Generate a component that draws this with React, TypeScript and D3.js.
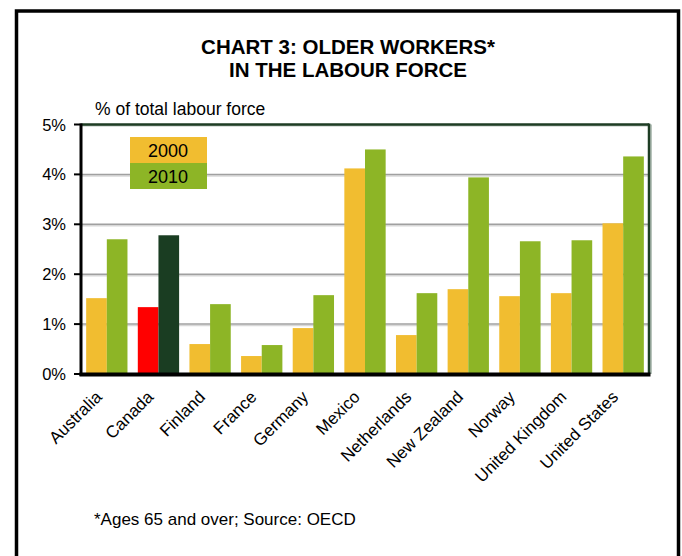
import React from 'react';
import * as d3 from 'd3';

const countries = ['Australia', 'Canada', 'Finland', 'France', 'Germany', 'Mexico', 'Netherlands', 'New Zealand', 'Norway', 'United Kingdom', 'United States'];
const values2000 = [1.52, 1.34, 0.6, 0.36, 0.92, 4.12, 0.78, 1.7, 1.56, 1.62, 3.02];
const values2010 = [2.7, 2.78, 1.4, 0.58, 1.58, 4.5, 1.62, 3.94, 2.66, 2.68, 4.36];
const highlight = ['Canada'];
const yTicks = [0, 1, 2, 3, 4, 5];
const seriesNames = ['2000', '2010'];

const W = 682;
const H = 556;
const FONT = "'Liberation Sans', Arial, sans-serif";

const colors = { y2000: '#f1bd30', y2010: '#8db526', hi2000: '#ff0000', hi2010: '#1a3d22' };

const App: React.FC = () => {
  const margin = { left: 81, right: 649, top: 124.5, bottom: 374 };

  const x = d3.scaleBand<string>()
    .domain(countries)
    .range([margin.left, margin.right])
    .paddingInner(0.2)
    .paddingOuter(0.1);

  const sub = d3.scaleBand<string>()
    .domain(seriesNames)
    .range([0, x.bandwidth()]);

  const y = d3.scaleLinear().domain([0, 5]).range([margin.bottom, margin.top]);

  return (
    <div style={{ position: 'absolute', left: 0, top: 0 }}>
      <svg width={W} height={H} style={{ display: 'block', fontFamily: FONT }}>
        <rect x={0} y={0} width={W} height={H} fill="#fff" />
        {/* outer frame */}
        <rect x={16.5} y={11} width={662} height={600} fill="none" stroke="#000" strokeWidth={3.5} />

        {/* title */}
        <text x={348} y={53.5} textAnchor="middle" fontWeight="bold" fontSize={20.5}>CHART 3: OLDER WORKERS*</text>
        <text x={348} y={77} textAnchor="middle" fontWeight="bold" fontSize={20.5}>IN THE LABOUR FORCE</text>
        <text x={95} y={115} fontSize={17.5}>% of total labour force</text>

        {/* gridlines */}
        {yTicks.filter(t => t > 0 && t < 5).map(t => (
          <g key={t}>
            <line x1={margin.left} x2={margin.right} y1={y(t) + 1.5} y2={y(t) + 1.5} stroke="#d8d8d8" strokeWidth={1.5} />
            <line x1={margin.left} x2={margin.right} y1={y(t)} y2={y(t)} stroke="#a0a0a0" strokeWidth={1.5} />
          </g>
        ))}

        {/* plot frame: top and right */}
        <line x1={margin.left} x2={margin.right + 2} y1={y(5) + 1} y2={y(5) + 1} stroke="#b8c4bc" strokeWidth={2} />
        <line x1={margin.right + 2} x2={margin.right + 2} y1={y(5)} y2={y(0)} stroke="#b8c4bc" strokeWidth={2} />
        <line x1={margin.left} x2={margin.right} y1={y(5)} y2={y(5)} stroke="#1e3d24" strokeWidth={2.5} />
        <line x1={margin.right} x2={margin.right} y1={y(5) - 1} y2={y(0)} stroke="#1e3d24" strokeWidth={2.5} />

        {/* bars */}
        {countries.map((c, i) => {
          const hi = highlight.includes(c);
          const x0 = x(c)!;
          return (
            <g key={c}>
              <rect x={x0 + sub('2000')!} y={y(values2000[i])} width={sub.bandwidth()} height={y(0) - y(values2000[i])}
                fill={hi ? colors.hi2000 : colors.y2000} />
              <rect x={x0 + sub('2010')!} y={y(values2010[i])} width={sub.bandwidth()} height={y(0) - y(values2010[i])}
                fill={hi ? colors.hi2010 : colors.y2010} />
            </g>
          );
        })}

        {/* axes */}
        <line x1={margin.left} x2={margin.left} y1={y(5) - 1} y2={y(0) + 2} stroke="#000" strokeWidth={3} />
        <line x1={margin.left - 1.5} x2={margin.right + 1.5} y1={y(0) + 0.5} y2={y(0) + 0.5} stroke="#000" strokeWidth={4} />
        {yTicks.map(t => (
          <g key={t}>
            <line x1={margin.left - 7} x2={margin.left} y1={y(t)} y2={y(t)} stroke="#000" strokeWidth={2} />
            <text x={66} y={y(t) + 6} textAnchor="end" fontSize={16.5}>{`${t}%`}</text>
          </g>
        ))}

        {/* category labels */}
        {countries.map(c => {
          const cx = x(c)! + x.bandwidth() / 2;
          return (
            <text key={c} transform={`translate(${cx - 4},${398}) rotate(-45)`} textAnchor="end" fontSize={17}>{c}</text>
          );
        })}

        {/* legend */}
        <rect x={130} y={137} width={77} height={26} fill={colors.y2000} />
        <rect x={130} y={163} width={77} height={26} fill={colors.y2010} />
        <text x={168} y={157} textAnchor="middle" fontSize={18}>{seriesNames[0]}</text>
        <text x={168} y={182.5} textAnchor="middle" fontSize={18}>{seriesNames[1]}</text>

        {/* footnote */}
        <text x={94} y={525} fontSize={17}>*Ages 65 and over; Source: OECD</text>
      </svg>
    </div>
  );
};

export default App;
